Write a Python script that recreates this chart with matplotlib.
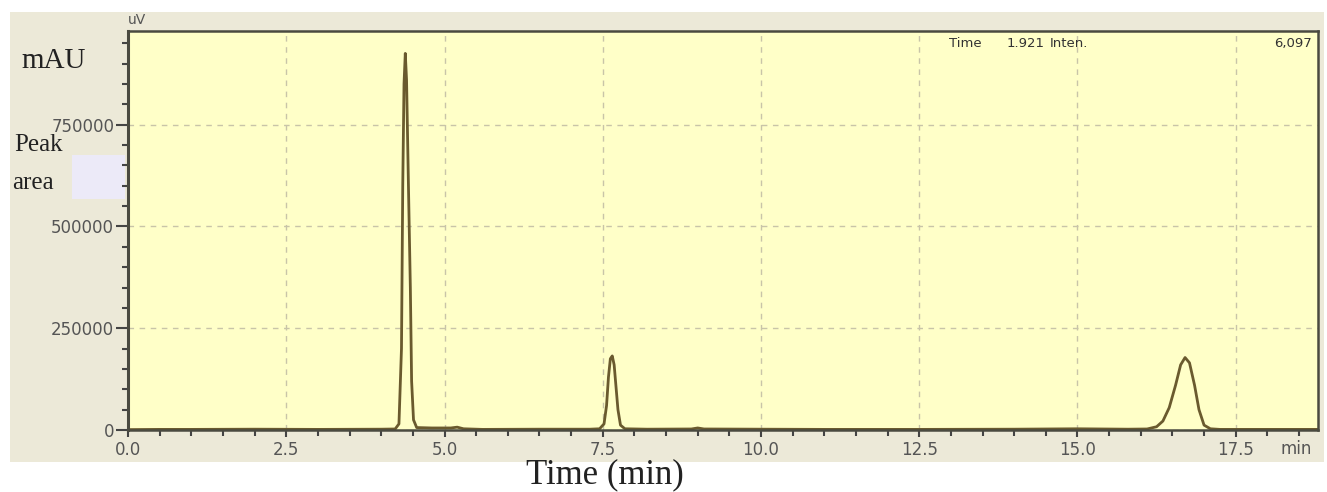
import matplotlib.pyplot as plt
from matplotlib.patches import Rectangle

# chromatogram trace (time in min, signal in uV)
time_min = [0.0, 0.5, 1.0, 2.0, 3.0, 4.0, 4.22, 4.28, 4.32, 4.34, 4.36, 4.38,
            4.40, 4.43, 4.46, 4.48, 4.51, 4.56, 4.8, 5.1, 5.2, 5.3, 5.6, 6.5,
            7.3, 7.45, 7.52, 7.56, 7.59, 7.62, 7.65, 7.68, 7.71, 7.74, 7.78,
            7.85, 8.2, 8.9, 9.0, 9.1, 10.0, 11.0, 12.5, 14.0, 15.0, 15.8,
            16.10, 16.25, 16.35, 16.45, 16.55, 16.63, 16.70, 16.77, 16.85,
            16.92, 17.00, 17.10, 17.25, 18.0, 18.8]
signal_uv = [1000, 1500, 1500, 2000, 1500, 2000, 2500, 15000, 200000, 600000,
             850000, 925000, 860000, 600000, 350000, 120000, 25000, 6000, 5000,
             5000, 7000, 3000, 1500, 2000, 2000, 3000, 15000, 60000, 130000,
             175000, 182000, 160000, 105000, 50000, 12000, 3000, 2000, 2500,
             5000, 2500, 2000, 1500, 1500, 2000, 3000, 2000, 2500, 8000, 22000,
             55000, 110000, 160000, 178000, 165000, 110000, 50000, 12000, 3000,
             1500, 1500, 1500]

x_ticks = [0.0, 2.5, 5.0, 7.5, 10.0, 12.5, 15.0, 17.5]
y_ticks = [0, 250000, 500000, 750000]
y_labels = ['0', '250000', '500000', '750000']

fig = plt.figure(figsize=(13.27, 4.92), dpi=100)
fig.patches.append(Rectangle((0.0075, 0.061), 0.99, 0.915, transform=fig.transFigure,
                             facecolor='#ECE9D8', edgecolor='none', zorder=-5))
fig.patches.append(Rectangle((0.054, 0.595), 0.04, 0.09, transform=fig.transFigure,
                             facecolor='#ECEAF8', edgecolor='none', zorder=-4))

ax = fig.add_axes([0.0965, 0.126, 0.8967, 0.811])
ax.set_facecolor('#FFFFC8')
ax.plot(time_min, signal_uv, color='#6A5A2E', lw=2)
ax.set_xlim(0, 18.8)
ax.set_ylim(0, 980000)

ax.set_xticks(x_ticks)
ax.set_xticklabels([f'{t:.1f}' for t in x_ticks])
ax.set_xticks([i * 0.5 for i in range(38)], minor=True)
ax.set_yticks(y_ticks)
ax.set_yticklabels(y_labels)
ax.set_yticks([i * 50000 for i in range(20)], minor=True)
ax.tick_params(axis='both', which='major', labelsize=12, labelcolor='#555555',
               color='#444444', width=1.5)
ax.tick_params(axis='y', which='major', length=9, pad=1)
ax.tick_params(axis='x', which='major', length=5, pad=3)
ax.tick_params(axis='both', which='minor', length=4, color='#444444', width=1.5)
ax.grid(True, which='major', color='#C8C4A8', linestyle=(0, (4, 4)), lw=1)

for s in ax.spines.values():
    s.set_color('#4A4A40')
    s.set_linewidth(1.8)
ax.spines['left'].set_linewidth(2.2)

ax.text(0.0, 1.01, 'uV', transform=ax.transAxes, fontsize=10, color='#555555',
        ha='left', va='bottom')
ax.text(0.995, -0.047, 'min', transform=ax.transAxes, fontsize=12, color='#555555',
        ha='right', va='center')
ax.text(0.69, 0.985, 'Time', transform=ax.transAxes, fontsize=9.5, color='#333333', va='top')
ax.text(0.738, 0.985, '1.921', transform=ax.transAxes, fontsize=9.5, color='#333333', va='top')
ax.text(0.775, 0.985, 'Inten.', transform=ax.transAxes, fontsize=9.5, color='#333333', va='top')
ax.text(0.995, 0.985, '6,097', transform=ax.transAxes, fontsize=9.5, color='#333333',
        va='top', ha='right')

fig.text(0.016, 0.875, 'mAU', family='Liberation Serif', fontsize=21, color='#222222',
         va='center', ha='left')
fig.text(0.011, 0.705, 'Peak', family='Liberation Serif', fontsize=18, color='#222222',
         va='center', ha='left')
fig.text(0.009, 0.628, 'area', family='Liberation Serif', fontsize=18, color='#222222',
         va='center', ha='left')
fig.text(0.456, 0.035, 'Time (min)', family='Liberation Serif', fontsize=25,
         color='#222222', va='center', ha='center')

fig.savefig('out.png', dpi=100)
